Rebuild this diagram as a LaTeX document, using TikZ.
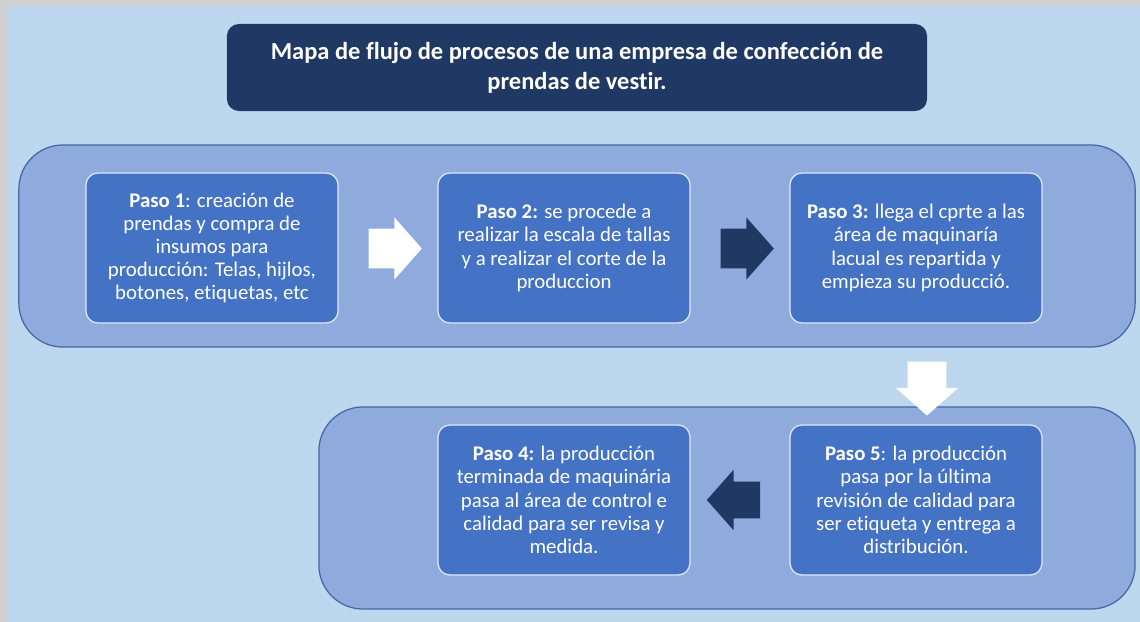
\documentclass[tikz,border=0pt]{standalone}
\usepackage{fontspec}
\setmainfont{Carlito}[Ligatures={NoCommon,NoContextual}]
\usetikzlibrary{positioning,shapes.arrows}
\definecolor{fondo}{HTML}{BDD7EE}
\definecolor{marco}{HTML}{D0D0D0}
\definecolor{panel}{HTML}{8FAADC}
\definecolor{borde}{HTML}{4468A8}
\definecolor{caja}{HTML}{4472C4}
\definecolor{marino}{HTML}{203864}

\begin{document}
\begin{tikzpicture}[x=0.025cm,y=-0.025cm,
      every node/.style={font=\fontsize{14.8}{16.5}\selectfont,text=white},
      titulo/.style={rectangle,rounded corners=0.3cm,fill=marino,minimum width=17.5cm,minimum height=2.175cm,
        align=center,font=\fontsize{17.4}{21.3}\selectfont\bfseries},
      fila/.style={rectangle,rounded corners=1.1cm,fill=panel,draw=borde,line width=0.9pt,minimum height=5.05cm},
      paso/.style={rectangle,rounded corners=0.3cm,fill=caja,draw=white!85!caja,line width=0.9pt,
        minimum width=6.3cm,minimum height=3.75cm,align=center},
      flecha/.style={single arrow,inner xsep=0pt,inner ysep=0.4875cm,minimum height=1.33cm,
        single arrow head extend=0.28cm,single arrow tip angle=97}]
    \useasboundingbox (0,0) rectangle (1140,621);
    % fondo y margen gris
    \fill[marco] (-5,-5) rectangle (1150,630);
    \fill[fondo] (7,6) rectangle (1150,630);
    % titulo
    \node[titulo] (tit) at (577,67.5) {Mapa de flujo de procesos de una empresa de confección de\\prendas de vestir.};
    % paneles de las dos filas
    \node[fila,minimum width=27.9cm] (fila1) at (577,246) {};
    \node[fila,minimum width=20.4cm] (fila2) at (727,508) {};
    % fila de arriba: pasos 1 a 3
    \node[paso] (p1) at (212,248) {\textbf{Paso 1}: creación de\\prendas y compra de\\insumos para\\producción: Telas, hijlos,\\botones, etiquetas, etc};
    \node[paso] (p2) at (564,248) {\textbf{Paso 2:} se procede a\\realizar la escala de tallas\\y a realizar el corte de la\\produccion};
    \node[paso] (p3) at (916,248) {\textbf{Paso 3:} llega el cprte a las\\área de maquinaría\\lacual es repartida y\\empieza su producció.};
    % fila de abajo: pasos 4 y 5
    \node[paso] (p4) at (564,500) {\textbf{Paso 4:} la producción\\terminada de maquinária\\pasa al área de control e\\calidad para ser revisa y\\medida.};
    \node[paso] (p5) at (916,500) {\textbf{Paso 5}: la producción\\pasa por la última\\revisión de calidad para\\ser etiqueta y entrega a\\distribución.};
    % flechas de bloque
    \node[flecha,fill=white] (f12) at (386.5,248.5) {};
    \node[flecha,fill=marino] (f23) at (738.5,248.5) {};
    \node[flecha,fill=white,shape border rotate=270,minimum height=1.35cm,inner xsep=0.475cm,inner ysep=0pt,
      single arrow head extend=0.3cm] (f35) at (927,380) {};
    \node[flecha,fill=marino,shape border rotate=180,inner ysep=0.45cm,
      single arrow head extend=0.3cm] (f54) at (741.5,500) {};
\end{tikzpicture}
\end{document}
